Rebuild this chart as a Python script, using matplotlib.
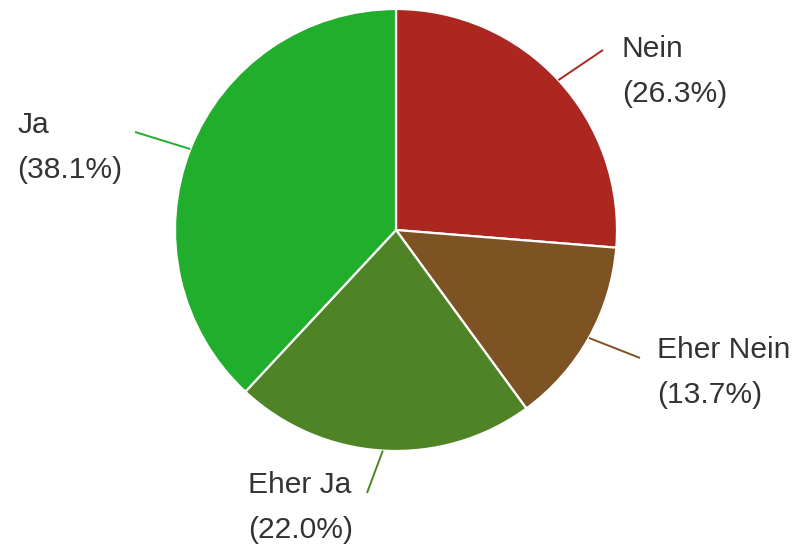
import numpy as np
import matplotlib
matplotlib.use("Agg")
import matplotlib.pyplot as plt

# Daten (Anteile in Prozent, im Uhrzeigersinn ab 12 Uhr)
labels = ["Nein", "Eher Nein", "Eher Ja", "Ja"]
shares = [26.3, 13.7, 22.0, 38.1]
colors = ["#ad2721", "#7e5323", "#4e8426", "#22ae2d"]

# Layout in Pixeln (Figur 794x545, y von oben)
W, H = 794, 545
cx, cy, r = 396, 230, 221
# Textposition (links, erste Grundlinie) und Ende der Hinweislinie
text_pos = [(622, 57), (657, 358), (248, 493), (17, 133)]
leader_end = [(603, 50), (640, 358), (367, 493), (135, 132)]
line_gap = 45

fig = plt.figure(figsize=(W / 100, H / 100), dpi=100)
ax = fig.add_axes([0, 0, 1, 1])

ax.pie(shares, colors=colors, startangle=90, counterclock=False,
       center=(cx, H - cy), radius=r,
       wedgeprops=dict(edgecolor="white", linewidth=1.6))
ax.set_xlim(0, W)
ax.set_ylim(0, H)
ax.set_aspect("equal")
ax.axis("off")

# Hinweislinien und Beschriftungen
total = sum(shares)
start = 0.0
for lab, v, col, (tx, ty), (ex, ey) in zip(labels, shares, colors, text_pos, leader_end):
    mid = (start + v / 2) / total * 2 * np.pi
    start += v
    sx = cx + r * np.sin(mid)
    sy = cy - r * np.cos(mid)
    ax.plot([sx, ex], [H - sy, H - ey], color=col, lw=1.4, solid_capstyle="butt")
    ax.text(tx, H - ty, lab, fontsize=21.6, family="Liberation Sans",
            color="#333333", ha="left", va="baseline")
    ax.text(tx, H - ty - line_gap, f"({v:.1f}%)", fontsize=21.6,
            family="Liberation Sans", color="#333333", ha="left", va="baseline")

fig.savefig("out.png", dpi=100, facecolor="white")
